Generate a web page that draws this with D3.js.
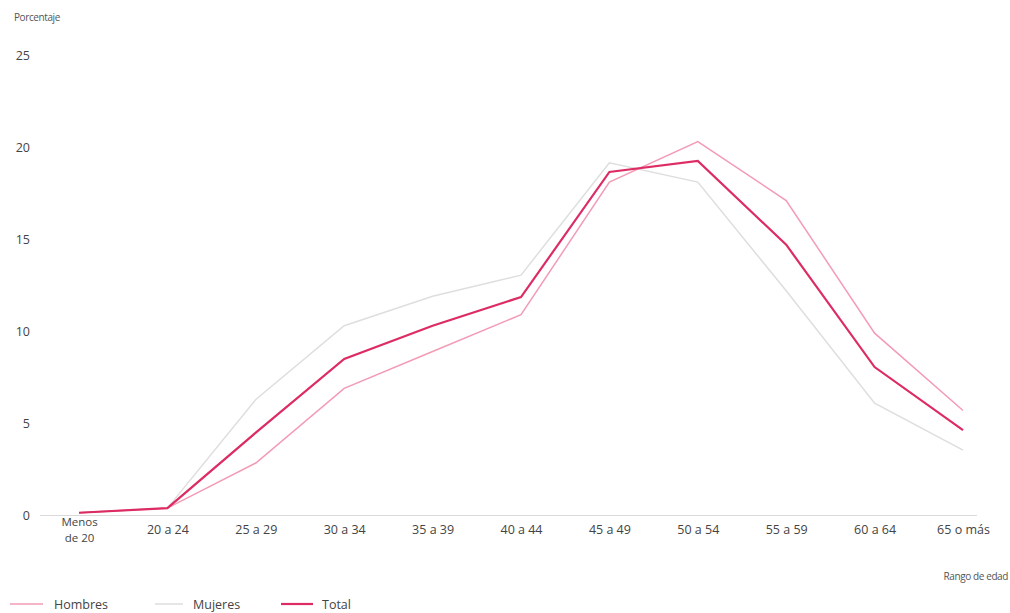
<!DOCTYPE html>
<html>
<head>
<meta charset="utf-8">
<script src="https://cdn.jsdelivr.net/npm/d3@7"></script>
<style>
  html, body { margin: 0; padding: 0; background: #fff; }
  svg { display: block; font-family: "Open Sans", "Noto Sans", sans-serif; }
</style>
</head>
<body>
<svg id="chart" width="1010" height="613"></svg>
<script>
const categories = ["Menos de 20", "20 a 24", "25 a 29", "30 a 34", "35 a 39", "40 a 44", "45 a 49", "50 a 54", "55 a 59", "60 a 64", "65 o más"];
const hombres = [0.15, 0.4, 2.85, 6.9, 8.9, 10.9, 18.1, 20.3, 17.1, 9.9, 5.7];
const mujeres = [0.15, 0.4, 6.3, 10.3, 11.9, 13.05, 19.15, 18.1, 12.2, 6.1, 3.55];
const total = [0.15, 0.4, 4.5, 8.5, 10.3, 11.86, 18.65, 19.25, 14.7, 8.06, 4.64];
const yTicks = [0, 5, 10, 15, 20, 25];
const seriesNames = ["Hombres", "Mujeres", "Total"];

const svg = d3.select("#chart");
const x = d3.scalePoint().domain(categories).range([79, 963]);
const y = d3.scaleLinear().domain([0, 25]).range([515.5, 55]);

const colors = { Hombres: "#f39bb5", Mujeres: "#dedede", Total: "#dc2c63" };
const widths = { Hombres: 1.5, Mujeres: 1.5, Total: 2.2 };
const dataBy = { Hombres: hombres, Mujeres: mujeres, Total: total };

// baseline
svg.append("line").attr("x1", 40).attr("x2", 977)
  .attr("y1", y(0)).attr("y2", y(0))
  .attr("stroke", "#dadada").attr("stroke-width", 1.2);

// y axis
const yAxis = svg.append("g").attr("transform", "translate(30,0)")
  .call(d3.axisLeft(y).tickValues(yTicks).tickSize(0).tickPadding(0).tickFormat(d3.format("d")));
yAxis.select(".domain").remove();
yAxis.selectAll("text").attr("fill", "#444").attr("font-size", 12.5)
  .style("font-family", "'Open Sans', 'Noto Sans', sans-serif");

// x axis
const xAxis = svg.append("g").attr("transform", `translate(0,${y(0)})`)
  .call(d3.axisBottom(x).tickSize(0).tickPadding(0));
xAxis.select(".domain").remove();
xAxis.selectAll("text").each(function(d) {
  const t = d3.select(this);
  t.text(null).attr("fill", "#444").attr("font-size", 12.5)
    .style("font-family", "'Open Sans', 'Noto Sans', sans-serif")
    .attr("dy", null).attr("y", 0);
  if (d === "Menos de 20") {
    t.attr("font-size", 11.5);
    t.append("tspan").attr("x", 0).attr("y", 10).text("Menos");
    t.append("tspan").attr("x", 0).attr("y", 26.5).text("de 20");
  } else {
    t.append("tspan").attr("x", 0).attr("y", 18).text(d);
  }
});

// axis titles
svg.append("text").attr("x", 14).attr("y", 21).attr("fill", "#555")
  .attr("font-size", 10).attr("letter-spacing", -0.4).text("Porcentaje");
svg.append("text").attr("x", 1008).attr("y", 580).attr("text-anchor", "end")
  .attr("fill", "#555").attr("font-size", 10).attr("letter-spacing", -0.4).text("Rango de edad");

// lines
const line = d3.line().x((d, i) => x(categories[i])).y(d => y(d));
["Mujeres", "Hombres", "Total"].forEach(name => {
  svg.append("path").datum(dataBy[name])
    .attr("d", line).attr("fill", "none")
    .attr("stroke", colors[name]).attr("stroke-width", widths[name])
    .attr("stroke-linejoin", "miter");
});

// legend
const legendPos = { Hombres: [10, 43, 54], Mujeres: [155, 183, 193], Total: [281, 313, 322] };
const legend = svg.append("g");
seriesNames.forEach(name => {
  const p = legendPos[name];
  legend.append("line").attr("x1", p[0]).attr("x2", p[1]).attr("y1", 604).attr("y2", 604)
    .attr("stroke", colors[name]).attr("stroke-width", widths[name]);
  legend.append("text").attr("x", p[2]).attr("y", 608.5).attr("fill", "#444")
    .attr("font-size", 12.5).text(name);
});
</script>
</body>
</html>
